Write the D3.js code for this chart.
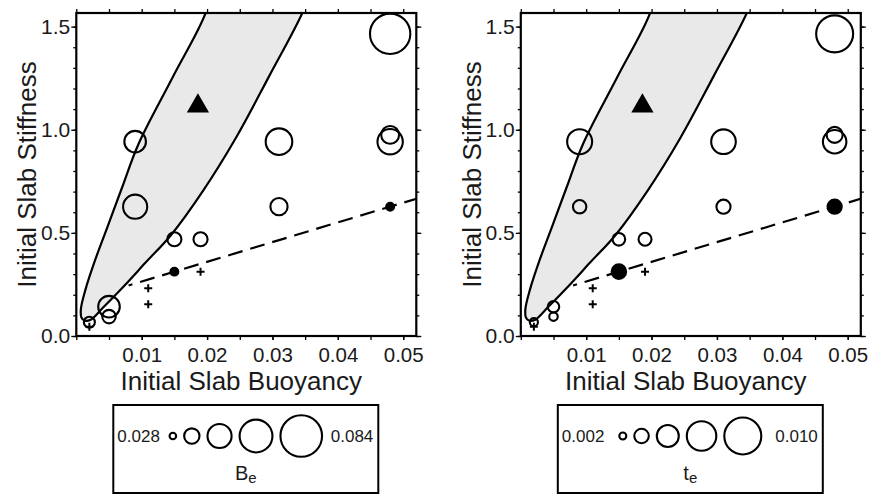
<!DOCTYPE html>
<html lang="en">
<head>
<meta charset="UTF-8">
<title>Initial slab stiffness vs buoyancy</title>
<script src="https://d3js.org/d3.v7.min.js"></script>
<style>
  body { margin: 0; background: #fff; }
  svg text { font-family: "Liberation Sans", Arial, Helvetica, sans-serif; fill: #1a1a1a; }
  .tick line { stroke: #000; stroke-width: 1.3px; }
  .frame { fill: none; stroke: #000; stroke-width: 2.2px; }
  .zone { fill: #e9e9e9; stroke: #000; stroke-width: 2.2px; }
  .trend { fill: none; stroke: #000; stroke-width: 2.2px; stroke-dasharray: 15,8; stroke-dashoffset: 11; }
  .run { fill: none; stroke: #000; stroke-width: 2.1px; }
  .run.solid { fill: #000; }
  .plus { fill: none; stroke: #000; stroke-width: 2px; }
  .legend-box { fill: #fff; stroke: #000; stroke-width: 2px; }
</style>
</head>
<body>
<svg width="871" height="495"></svg>
<script>
// model runs (same positions in both panels, size = Be left, te right)
const buoyancy  = [0.048, 0.048, 0.048, 0.031, 0.031, 0.048, 0.009, 0.009, 0.015, 0.019, 0.015, 0.005, 0.005, 0.002];
const stiffness = [1.465, 0.942, 0.975, 0.942, 0.627, 0.627, 0.942, 0.627, 0.469, 0.469, 0.312, 0.142, 0.094, 0.067];
const beValue   = [0.082, 0.058, 0.046, 0.060, 0.045, 0.030, 0.052, 0.056, 0.040, 0.040, 0.030, 0.052, 0.039, 0.035];
const teValue   = [0.0100, 0.0064, 0.0044, 0.0067, 0.0039, 0.0039, 0.0068, 0.0037, 0.0035, 0.0036, 0.0040, 0.0032, 0.0024, 0.0023];
const filled    = [false, false, false, false, false, true, false, false, false, false, true, false, false, false];

// runs drawn as crosses
const plusX = [0.011, 0.011, 0.019, 0.002];
const plusY = [0.231, 0.154, 0.312, 0.045];

// triangle run
const triX = [0.0186];
const triY = [1.115];

// dashed trend line
const trendX = [0.0080, 0.053];
const trendY = [0.245, 0.675];

// shaded regime boundary (left side going down, round the tip, right side going up)
const zoneX = [0.0212, 0.0198, 0.0148, 0.0095, 0.0070, 0.0049, 0.0029, 0.0014, 0.0007, 0.0008, 0.0013,
               0.0022, 0.0041, 0.0072, 0.0106, 0.0145, 0.0193, 0.0244, 0.0295, 0.0346, 0.0368];
const zoneY = [1.75, 1.568, 1.258, 0.930, 0.720, 0.540, 0.370, 0.225, 0.130, 0.088, 0.074,
               0.079, 0.138, 0.239, 0.356, 0.490, 0.700, 0.960, 1.260, 1.568, 1.75];

const xTicks = [0.01, 0.02, 0.03, 0.04, 0.05];
const yTicks = [0.0, 0.5, 1.0, 1.5];

const beLegend = [0.028, 0.042, 0.056, 0.070, 0.084];
const teLegend = [0.002, 0.004, 0.006, 0.008, 0.010];

const svg = d3.select("svg");
svg.append("rect").attr("width", 871).attr("height", 495).attr("fill", "#fff");

const W = 340, H = 323, TOP = 13;

const x = d3.scaleLinear().domain([0, 0.052]).range([0, W]);
const y = d3.scaleLinear().domain([0, 1.566]).range([H, 0]);

const runs = buoyancy.map((b, i) => ({ b, s: stiffness[i], be: beValue[i], te: teValue[i], solid: filled[i] }));
const zone = zoneX.map((v, i) => [v, zoneY[i]]);

function drawPanel(id, left, sizeKey, rScale, legendValues, sub) {
    const g = svg.append("g").attr("transform", `translate(${left},${TOP})`);

    g.append("clipPath").attr("id", "clip-" + id)
        .append("rect").attr("width", W).attr("height", H);

    const inner = g.append("g").attr("clip-path", `url(#clip-${id})`);

    // shaded region
    inner.append("path")
        .attr("class", "zone")
        .attr("d", d3.line()
            .x(d => x(d[0]))
            .y(d => y(d[1]))
            .curve(d3.curveCatmullRom.alpha(0.5))(zone) + "Z");

    // trend line
    inner.append("path")
        .attr("class", "trend")
        .attr("d", d3.line().x(d => x(d[0])).y(d => y(d[1]))(trendX.map((v, i) => [v, trendY[i]])));

    // circles
    inner.selectAll("circle.run")
        .data(runs)
        .join("circle")
        .attr("class", d => d.solid ? "run solid" : "run")
        .attr("cx", d => x(d.b))
        .attr("cy", d => y(d.s))
        .attr("r", d => rScale(d[sizeKey]));

    // crosses
    inner.selectAll("path.plus")
        .data(plusX.map((v, i) => [v, plusY[i]]))
        .join("path")
        .attr("class", "plus")
        .attr("transform", d => `translate(${x(d[0])},${y(d[1])})`)
        .attr("d", "M-4,0H4M0,-4V4");

    // triangle
    inner.selectAll("path.tri")
        .data(triX.map((v, i) => [v, triY[i]]))
        .join("path")
        .attr("class", "tri")
        .attr("fill", "#000")
        .attr("transform", d => `translate(${x(d[0])},${y(d[1])})`)
        .attr("d", d3.symbol(d3.symbolTriangle, 215));

    // axes
    const minorX = d3.range(0, 0.0521, 0.005);
    const minorY = d3.range(0, 1.56, 0.1);

    g.append("g").attr("transform", `translate(0,${H})`)
        .call(d3.axisBottom(x).tickValues(minorX).tickSize(4).tickFormat(""));
    g.append("g").attr("transform", `translate(0,${H})`)
        .call(d3.axisBottom(x).tickValues(xTicks).tickSize(4).tickPadding(7).tickFormat(d3.format(".2f")))
        .call(a => a.selectAll("text").attr("font-size", 20.5));
    g.append("g")
        .call(d3.axisTop(x).tickValues(minorX).tickSize(4).tickFormat(""));

    g.append("g")
        .call(d3.axisLeft(y).tickValues(minorY).tickSize(3).tickFormat(""));
    g.append("g")
        .call(d3.axisLeft(y).tickValues(yTicks).tickSize(5).tickPadding(1).tickFormat(d3.format(".1f")))
        .call(a => a.selectAll("text").attr("font-size", 21));
    g.append("g").attr("transform", `translate(${W},0)`)
        .call(d3.axisRight(y).tickValues(minorY).tickSize(3).tickFormat(""));
    g.append("g").attr("transform", `translate(${W},0)`)
        .call(d3.axisRight(y).tickValues(yTicks).tickSize(5).tickFormat(""));

    g.selectAll(".domain").remove();

    g.append("rect").attr("class", "frame").attr("width", W).attr("height", H);

    // axis titles
    g.append("text")
        .attr("x", W / 2 - 5)
        .attr("y", H + 54)
        .attr("text-anchor", "middle")
        .attr("font-size", 26)
        .text("Initial Slab Buoyancy");

    g.append("text")
        .attr("transform", `translate(-40,${H / 2}) rotate(-90)`)
        .attr("text-anchor", "middle")
        .attr("font-size", 26)
        .text("Initial Slab Stiffness");

    // legend
    const bw = 265, bh = 88;
    const lg = svg.append("g").attr("transform", `translate(${left + 37},405)`);
    lg.append("rect").attr("class", "legend-box").attr("width", bw).attr("height", bh);

    const gap = 8;
    const radii = legendValues.map(v => rScale(v));
    const total = d3.sum(radii) * 2 + gap * (radii.length - 1);
    let cx = bw / 2 - total / 2;
    const centers = radii.map(r => { const c = cx + r; cx += 2 * r + gap; return c; });

    lg.selectAll("circle")
        .data(legendValues)
        .join("circle")
        .attr("class", "run")
        .attr("cx", (d, i) => centers[i])
        .attr("cy", 31)
        .attr("r", d => rScale(d));

    const fmt = d3.format(".3f");
    lg.append("text").attr("x", 4).attr("y", 31).attr("dy", "0.35em")
        .attr("font-size", 17).text(fmt(legendValues[0]));
    lg.append("text").attr("x", bw - 5).attr("y", 31).attr("dy", "0.35em")
        .attr("text-anchor", "end")
        .attr("font-size", 17).text(fmt(legendValues[legendValues.length - 1]));

    const t = lg.append("text").attr("x", bw / 2).attr("y", 75)
        .attr("text-anchor", "middle").attr("font-size", 20);
    t.append("tspan").text(sub[0]);
    t.append("tspan").attr("font-size", 15).attr("dy", 3).text(sub[1]);
}

drawPanel("be", 76.3, "be", d3.scaleLinear().domain([0.028, 0.084]).range([3.3, 20.8]), beLegend, ["B", "e"]);
drawPanel("te", 520.8, "te", d3.scaleLinear().domain([0.002, 0.010]).range([3.5, 18.5]), teLegend, ["t", "e"]);
</script>
</body>
</html>
